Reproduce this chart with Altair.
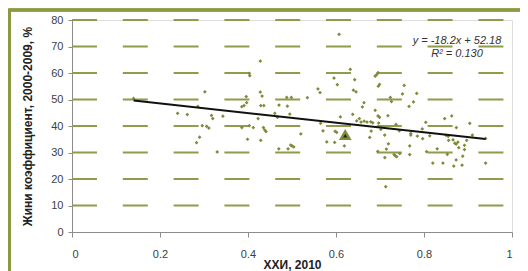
import altair as alt
import pandas as pd

# Scatter data: HDI 2010 (x) vs Gini coefficient 2000-2009 (y)
hdi = [
    0.140, 0.302, 0.240, 0.262, 0.286, 0.317, 0.320, 0.343, 0.296, 0.306,
    0.311, 0.290, 0.283, 0.330,
    0.386, 0.391, 0.397, 0.396, 0.386, 0.403, 0.412, 0.399, 0.403, 0.404,
    0.428, 0.428, 0.432, 0.429, 0.436, 0.423, 0.435, 0.438, 0.441, 0.429,
    0.461, 0.4705, 0.488, 0.4985, 0.4895, 0.467, 0.495, 0.535, 0.520, 0.470,
    0.491, 0.497, 0.500, 0.504,
    0.6325, 0.5955, 0.603, 0.6425, 0.6395, 0.6455, 0.559, 0.5637, 0.6955, 0.6925,
    0.689, 0.699, 0.696, 0.755, 0.751, 0.7235, 0.726, 0.6637, 0.660, 0.689,
    0.6955, 0.699, 0.718, 0.638, 0.610, 0.653, 0.647, 0.657, 0.664, 0.6705,
    0.679, 0.6835, 0.697, 0.565, 0.5705, 0.598, 0.6016, 0.7365, 0.744, 0.680,
    0.702, 0.6766, 0.7107, 0.579, 0.597, 0.619, 0.719, 0.7145, 0.695, 0.711,
    0.732, 0.735, 0.738, 0.745, 0.713, 0.607,
    0.7835, 0.776, 0.766, 0.770, 0.770, 0.804, 0.796, 0.785, 0.797, 0.813,
    0.847, 0.863, 0.8735, 0.904, 0.910, 0.850, 0.855, 0.856, 0.866, 0.873,
    0.877, 0.870, 0.879, 0.897, 0.892, 0.892, 0.888, 0.873, 0.8865, 0.8676,
    0.806, 0.830, 0.853, 0.820, 0.843, 0.7675, 0.7675, 0.940, 0.940,
]
gini = [
    50.4, 52.9, 44.8, 44.3, 47.4, 44.0, 42.8, 43.7, 40.1, 39.9,
    39.2, 35.8, 33.7, 30.2,
    47.3, 47.7, 48.8, 51.1, 39.4, 40.1, 39.4, 35.0, 59.9, 59.0,
    64.5, 52.8, 51.3, 47.7, 47.7, 42.8, 39.4, 38.5, 37.9, 34.6,
    44.8, 47.9, 50.8, 50.8, 47.5, 43.3, 44.5, 50.7, 37.0, 31.4,
    31.4, 32.8, 32.5, 32.1,
    61.4, 58.1, 55.6, 57.5, 53.5, 52.9, 54.0, 52.6, 60.1, 59.4,
    58.8, 55.7, 55.0, 55.3, 52.1, 50.8, 49.2, 48.8, 47.2, 45.9,
    43.8, 43.3, 43.9, 44.4, 43.4, 42.8, 41.9, 41.5, 41.8, 41.5,
    41.6, 41.2, 41.1, 41.0, 38.2, 38.0, 37.6, 40.6, 38.2, 38.1,
    38.7, 35.7, 36.6, 34.0, 33.8, 32.5, 33.3, 31.3, 30.4, 28.1,
    29.2, 28.7, 28.4, 29.6, 17.1, 74.6,
    52.3, 49.1, 47.4, 37.2, 36.6, 41.4, 38.9, 36.2, 35.2, 36.3,
    42.8, 43.8, 39.4, 41.0, 36.6, 36.5, 36.1, 34.6, 34.8, 33.2,
    33.9, 33.5, 31.8, 34.6, 32.7, 31.1, 28.6, 27.2, 25.2, 24.9,
    30.3, 31.4, 29.3, 26.0, 26.0, 32.5, 29.2, 35.3, 26.0,
]

# Highlighted country (triangle)
mark_x = [0.621]
mark_y = [36.6]

# Linear trend: y = slope * x + intercept, drawn over the data range
slope = -18.2
intercept = 52.18
trend_x = [0.14, 0.94]

grid_values = [10, 20, 30, 40, 50, 60, 70, 80]
x_ticks = [0, 0.2, 0.4, 0.6, 0.8, 1]
y_ticks = [0, 10, 20, 30, 40, 50, 60, 70, 80]

eq_lines = ["y = -18.2x + 52.18", "R² = 0.130"]
eq_x = [0.875, 0.875]
eq_y = [72.2, 67.3]

W, H = 440, 212
OLIVE = "#7d8b3a"
GRID = "#8e9c4c"
FONT = "Liberation Sans"

pts = pd.DataFrame({"x": hdi, "y": gini})
tri = pd.DataFrame({"x": mark_x, "y": mark_y})
trend = pd.DataFrame({"x": trend_x, "y": [slope * v + intercept for v in trend_x]})
grid = pd.DataFrame({"y": grid_values})
eq = pd.DataFrame({"t": eq_lines, "x": eq_x, "y": eq_y})

xs = alt.Scale(domain=[0, 1], nice=False, zero=False)
ys = alt.Scale(domain=[0, 80], nice=False)

x_axis = alt.Axis(values=x_ticks, format="~g", grid=False, title="ХХИ, 2010",
                  domainColor="#8c8c8c", tickColor="#8c8c8c", tickSize=5,
                  labelPadding=11, labelFontSize=11, labelColor="#404040", labelFont=FONT,
                  titleFont=FONT, titleFontSize=12, titleFontWeight="bold", titleColor="#222222",
                  titlePadding=0)
y_axis = alt.Axis(values=y_ticks, grid=False, title="Жини коэффициент, 2000-2009, %",
                  domainColor="#8c8c8c", tickColor="#8c8c8c", tickSize=4,
                  labelPadding=5, labelFontSize=11, labelColor="#404040", labelFont=FONT,
                  titleFont=FONT, titleFontSize=12, titleFontWeight="bold", titleColor="#222222",
                  titlePadding=16)

gridlines = alt.Chart(grid).mark_rule(color=GRID, strokeWidth=2, strokeDash=[25, 25.8]).encode(
    y=alt.Y("y:Q", scale=ys, axis=y_axis),
    x=alt.value(0), x2=alt.value(W),
)

points = alt.Chart(pts).mark_point(shape="diamond", filled=True, size=14, color=OLIVE, opacity=1).encode(
    x=alt.X("x:Q", scale=xs, axis=x_axis),
    y=alt.Y("y:Q", scale=ys, axis=y_axis),
)

line = alt.Chart(trend).mark_line(color="#111111", strokeWidth=2).encode(
    x=alt.X("x:Q", scale=xs, axis=x_axis), y=alt.Y("y:Q", scale=ys, axis=y_axis)
)

triangle = alt.Chart(tri).mark_point(shape="triangle-up", filled=True, size=70,
                                     fill="#222211", stroke=OLIVE, strokeWidth=2.5, opacity=1).encode(
    x=alt.X("x:Q", scale=xs, axis=x_axis), y=alt.Y("y:Q", scale=ys, axis=y_axis)
)

eq_text = alt.Chart(eq).mark_text(font=FONT, fontSize=11, fontStyle="italic", color="#333333",
                                  align="center", baseline="middle").encode(
    x=alt.X("x:Q", scale=xs, axis=x_axis), y=alt.Y("y:Q", scale=ys, axis=y_axis), text="t:N"
)

frame_left = alt.Chart(grid).mark_rule(color="#8a9a40", strokeWidth=2.5).encode(
    x=alt.value(-62.5), y=alt.value(-10), y2=alt.value(270)
)
frame_top = alt.Chart(grid).mark_rule(color="#8a9a40", strokeWidth=2.5).encode(
    y=alt.value(-10), x=alt.value(-63.5), x2=alt.value(470)
)

chart = alt.layer(gridlines, points, line, triangle, eq_text, frame_left, frame_top).properties(
    width=W, height=H,
    autosize=alt.AutoSizeParams(type="none"),
    padding={"left": 64, "top": 12, "right": 8, "bottom": 39},
).configure_view(stroke=None).configure(background="white")

chart.save("out.html", embed_options={"renderer": "svg", "actions": False})
